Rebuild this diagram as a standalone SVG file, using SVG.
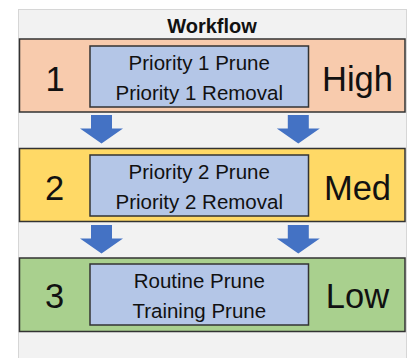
<svg xmlns="http://www.w3.org/2000/svg" xmlns:xlink="http://www.w3.org/1999/xlink" width="409" height="358" viewBox="0 0 409 358">
<style>
.band{stroke:#333;stroke-width:1.5}
.box{fill:#B4C6E7;stroke:#333;stroke-width:1.5}
.t{font-family:"Liberation Sans",Arial,sans-serif;fill:#111;text-anchor:middle}
.inner{font-size:20.5px}
.big{font-size:34.5px}
.title{font-size:20px;font-weight:bold}
.arrow{fill:#4472C4}
</style>
<defs>
<path id="arr" d="M-10.5,0 H10.5 V13.5 H21.5 L0,28.5 L-21.5,13.5 H-10.5 Z"/>
</defs>
<rect x="0" y="0" width="409" height="358" fill="#fff"/>
<rect x="18.5" y="9.5" width="388" height="349" fill="#F2F2F2" stroke="#D6D6D6" stroke-width="1"/>
<g id="title"><text class="t title" x="212" y="33">Workflow</text></g>
<g id="band1">
<rect class="band" x="19.5" y="39" width="385.5" height="73" fill="#F8CBAD"/>
<text class="t big" x="55" y="90.5">1</text>
<text class="t big" x="357.5" y="90.5">High</text>
</g>
<g id="box1">
<rect class="box" x="90" y="46" width="218.5" height="61"/>
<text class="t inner" x="199.25" y="69.5">Priority 1 Prune</text>
<text class="t inner" x="199.25" y="100">Priority 1 Removal</text>
</g>
<g id="band2">
<rect class="band" x="19.5" y="148.5" width="385.5" height="73" fill="#FFD966"/>
<text class="t big" x="54.5" y="200">2</text>
<text class="t big" x="357.5" y="200">Med</text>
</g>
<g id="box2">
<rect class="box" x="90" y="155" width="218.5" height="61"/>
<text class="t inner" x="199.25" y="178.5">Priority 2 Prune</text>
<text class="t inner" x="199.25" y="209">Priority 2 Removal</text>
</g>
<g id="band3">
<rect class="band" x="19.5" y="258" width="385.5" height="73.5" fill="#A9D08E"/>
<text class="t big" x="54.5" y="308">3</text>
<text class="t big" x="357.5" y="308">Low</text>
</g>
<g id="box3">
<rect class="box" x="90" y="264" width="218.5" height="61"/>
<text class="t inner" x="199.25" y="288">Routine Prune</text>
<text class="t inner" x="199.25" y="318">Training Prune</text>
</g>
<g id="connectors">
<use class="arrow" xlink:href="#arr" href="#arr" transform="translate(101.5,115)"/>
<use class="arrow" xlink:href="#arr" href="#arr" transform="translate(298.3,115)"/>
<use class="arrow" xlink:href="#arr" href="#arr" transform="translate(101.5,225)"/>
<use class="arrow" xlink:href="#arr" href="#arr" transform="translate(298.3,225)"/>
</g>
</svg>
